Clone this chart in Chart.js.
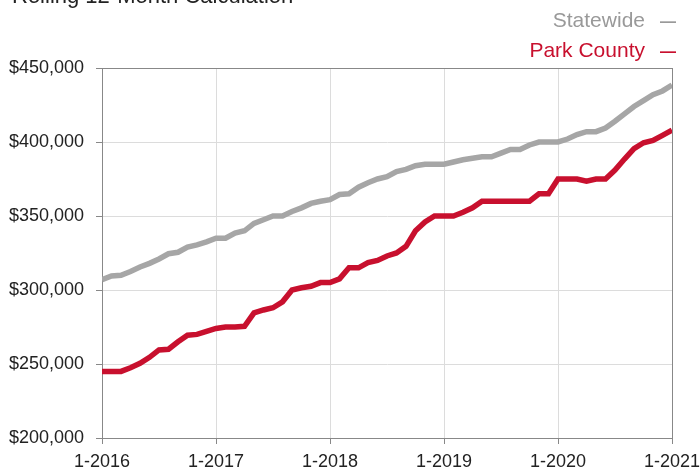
<!DOCTYPE html>
<html>
<head>
<meta charset="utf-8">
<script src="https://cdn.jsdelivr.net/npm/chart.js@4"></script>
<style>
  html, body { margin: 0; padding: 0; background: #fff; overflow: hidden; }
  #wrap { position: relative; width: 700px; height: 468px; font-family: "Liberation Sans", Arial, Helvetica, sans-serif; }
  #title { position: absolute; left: 12px; top: -15px; font-size: 22px; line-height: 22px; color: #222; white-space: nowrap; }
  .leg { position: absolute; right: 24px; font-size: 21px; line-height: 21px; white-space: nowrap; }
  .leg span { font-size: 16px; margin-left: 15px; font-weight: bold; }
  #legState { top: 9px; color: #999; }
  #legPark { top: 39px; color: #c8102e; }
  canvas { position: absolute; left: 0; top: 0; }
</style>
</head>
<body>
<div id="wrap">
  <canvas id="myChart" width="700" height="468"></canvas>
  <div id="title">Rolling 12-Month Calculation</div>
  <div class="leg" id="legState">Statewide<span>—</span></div>
  <div class="leg" id="legPark">Park County<span>—</span></div>
</div>
<script>
// monthly values, Jan 2016 .. Jan 2021
const statewide = [
  307000, 309500, 310000, 312500, 315500, 318000, 321000, 324500, 325500, 329000, 330500, 332500,
  335000, 335000, 338500, 340000, 345000, 347500, 350000, 350000, 353000, 355500, 358500, 360000,
  361000, 364500, 365000, 369500, 372500, 375000, 376500, 380000, 381500, 384000, 385000, 385000,
  385000, 386500, 388000, 389000, 390000, 390000, 392500, 395000, 395000, 398000, 400000, 400000,
  400000, 402000, 405000, 407000, 407000, 409500, 414000, 419000, 424000, 428000, 432000, 434500,
  438500
];
const parkCounty = [
  245000, 245000, 245000, 247500, 250500, 254500, 259500, 260000, 265000, 269500, 270000, 272000,
  274000, 275000, 275000, 275500, 284500, 286500, 288000, 292000, 300000, 301500, 302500, 305000,
  305000, 307500, 315000, 315000, 318500, 320000, 323000, 325000, 329500, 340000, 346000, 350000,
  350000, 350000, 352500, 355500, 360000, 360000, 360000, 360000, 360000, 360000, 365000, 365000,
  375000, 375000, 375000, 373500, 375000, 375000, 381000, 388500, 395500, 399500, 401000, 404500,
  408000
];
const xTickLabels = ['1-2016', '1-2017', '1-2018', '1-2019', '1-2020', '1-2021'];

const toPoints = arr => arr.map((v, i) => ({x: i, y: v}));

const boxPlugin = {
  id: 'box',
  beforeDatasetsDraw(chart) {
    const a = chart.chartArea;
    const c = chart.ctx;
    c.save();
    c.strokeStyle = '#888';
    c.lineWidth = 1;
    c.strokeRect(a.left + 0.5, a.top + 0.5, a.right - a.left, a.bottom - a.top);
    c.restore();
  }
};

const ctx = document.getElementById('myChart');
const font = {family: '"Liberation Sans", Arial, Helvetica, sans-serif', size: 18};

const myChart = new Chart(ctx, {
  type: 'line',
  data: {
    datasets: [
      {label: 'Statewide', data: toPoints(statewide), borderColor: '#a6a6a6', borderWidth: 5.5},
      {label: 'Park County', data: toPoints(parkCounty), borderColor: '#c8102e', borderWidth: 5.5}
    ]
  },
  options: {
    responsive: false,
    animation: false,
    layout: {padding: {top: 68, right: 28, left: 0, bottom: 0}},
    elements: {point: {radius: 0}, line: {tension: 0}},
    plugins: {legend: {display: false}, tooltip: {enabled: false}},
    scales: {
      x: {
        type: 'linear',
        min: 0,
        max: 60,
        afterFit: s => {
          s.height = 30;
          s.paddingLeft = 0;
          s.paddingRight = 0;
        },
        ticks: {
          stepSize: 12,
          color: '#222',
          font,
          padding: 7,
          maxRotation: 0,
          callback: v => xTickLabels[v / 12]
        },
        grid: {color: '#dcdcdc', tickColor: '#888', tickLength: 6},
        border: {color: '#888'}
      },
      y: {
        min: 200000,
        max: 450000,
        afterFit: s => {
          s.width = 102;
          s.paddingTop = 0;
          s.paddingBottom = 0;
        },
        ticks: {
          stepSize: 50000,
          color: '#222',
          font,
          padding: 12,
          callback: v => '$' + v.toLocaleString('en-US')
        },
        grid: {color: '#dcdcdc', tickColor: '#888', tickLength: 6},
        border: {color: '#888'}
      }
    }
  },
  plugins: [boxPlugin]
});
</script>
</body>
</html>
